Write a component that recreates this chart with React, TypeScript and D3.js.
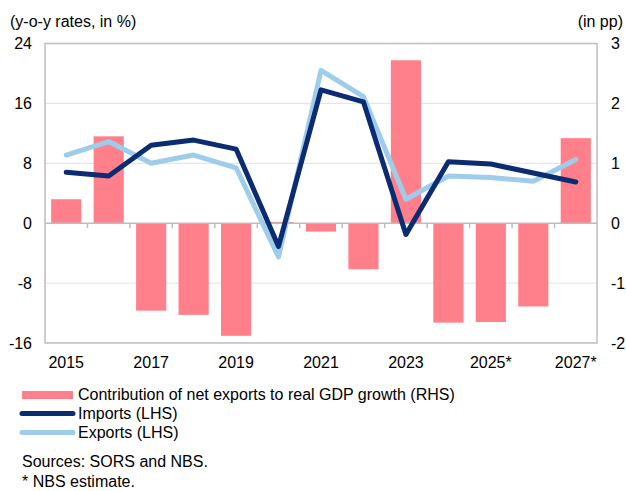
import React, { useEffect, useRef } from "react";
import * as d3 from "d3";

const years = ["2015", "2016", "2017", "2018", "2019", "2020", "2021", "2022", "2023", "2024", "2025*", "2026*", "2027*"];
const netExports = [0.4, 1.45, -1.46, -1.53, -1.88, 0.02, -0.14, -0.77, 2.72, -1.66, -1.65, -1.39, 1.42];
const imports = [6.8, 6.3, 10.4, 11.1, 9.9, -3.1, 17.8, 16.2, -1.5, 8.2, 7.9, 6.7, 5.5];
const exports = [9.1, 10.9, 8.0, 9.1, 7.4, -4.5, 20.4, 16.9, 3.2, 6.3, 6.1, 5.6, 8.5];
const leftTicks = [-16, -8, 0, 8, 16, 24];
const rightTicks = [-2, -1, 0, 1, 2, 3];
const xLabels = ["2015", "2017", "2019", "2021", "2023", "2025*", "2027*"];

const BAR = "#ff808b";
const NAVY = "#0b2c73";
const LIGHT = "#9dcdea";

export default function App() {
  const ref = useRef<SVGSVGElement | null>(null);

  useEffect(() => {
    if (!ref.current) return;
    const svg = d3.select(ref.current);
    svg.selectAll("*").remove();

    const W = 626;
    const H = 491;
    const m = { top: 43.5, left: 45, right: 29, bottom: 148 };
    const innerW = W - m.left - m.right;
    const innerH = H - m.top - m.bottom;
    const font = "'Liberation Sans', Arial, sans-serif";

    const x = d3.scaleBand().domain(years).range([m.left, m.left + innerW]).paddingInner(0.29).paddingOuter(0.145);
    const xc = (d: string) => x(d)! + x.bandwidth() / 2;
    const yL = d3.scaleLinear().domain([-16, 24]).range([m.top + innerH, m.top]);
    const yR = d3.scaleLinear().domain([-2, 3]).range([m.top + innerH, m.top]);

    // grid
    leftTicks.filter((t) => t !== 0 && t !== 24 && t !== -16).forEach((t) => {
      svg.append("line")
        .attr("x1", m.left).attr("x2", m.left + innerW)
        .attr("y1", yL(t)).attr("y2", yL(t))
        .attr("stroke", "#e2e2e2").attr("stroke-width", 1);
    });

    // bars
    svg.append("g").selectAll("rect").data(years).join("rect")
      .attr("x", (d) => x(d)!)
      .attr("width", x.bandwidth())
      .attr("y", (_, i) => Math.min(yR(netExports[i]), yR(0)))
      .attr("height", (_, i) => Math.abs(yR(netExports[i]) - yR(0)))
      .attr("fill", BAR);

    // zero axis with ticks at band edges
    svg.append("line")
      .attr("x1", m.left).attr("x2", m.left + innerW)
      .attr("y1", yL(0)).attr("y2", yL(0))
      .attr("stroke", "#bdbdbd").attr("stroke-width", 1.5);
    d3.range(1, years.length).forEach((i) => {
      const xx = m.left + i * (innerW / years.length);
      svg.append("line")
        .attr("x1", xx).attr("x2", xx)
        .attr("y1", yL(0)).attr("y2", yL(0) + 5)
        .attr("stroke", "#bdbdbd").attr("stroke-width", 1.5);
    });

    // frame
    svg.append("rect")
      .attr("x", m.left).attr("y", m.top)
      .attr("width", innerW).attr("height", innerH)
      .attr("fill", "none").attr("stroke", "#bdbdbd").attr("stroke-width", 1.5);

    // lines
    const line = (vals: number[]) =>
      d3.line<string>().x((d) => xc(d)).y((_, i) => yL(vals[i]))(years);
    svg.append("path").attr("d", line(exports)).attr("fill", "none")
      .attr("stroke", LIGHT).attr("stroke-width", 5).attr("stroke-linejoin", "round").attr("stroke-linecap", "round");
    svg.append("path").attr("d", line(imports)).attr("fill", "none")
      .attr("stroke", NAVY).attr("stroke-width", 5).attr("stroke-linejoin", "round").attr("stroke-linecap", "round");

    const txt = (xx: number, yy: number, s: string, anchor = "start") =>
      svg.append("text").attr("x", xx).attr("y", yy).attr("text-anchor", anchor)
        .attr("font-family", font).attr("font-size", 16).attr("fill", "#000").text(s);

    // axes labels
    leftTicks.forEach((t) => txt(32, yL(t) + 5.5, String(t), "end"));
    rightTicks.forEach((t) => txt(611, yR(t) + 5.5, String(t), "start"));
    xLabels.forEach((l) => txt(xc(l), 368, l, "middle"));

    txt(10, 27, "(y-o-y rates, in %)");
    txt(623, 27, "(in pp)", "end");

    // legend
    svg.append("rect").attr("x", 22).attr("y", 391).attr("width", 51).attr("height", 8).attr("fill", BAR);
    txt(78, 400, "Contribution of net exports to real GDP growth (RHS)");
    svg.append("line").attr("x1", 22).attr("x2", 73).attr("y1", 413.5).attr("y2", 413.5)
      .attr("stroke", NAVY).attr("stroke-width", 5).attr("stroke-linecap", "round");
    txt(78, 418.5, "Imports (LHS)");
    svg.append("line").attr("x1", 22).attr("x2", 73).attr("y1", 432.5).attr("y2", 432.5)
      .attr("stroke", LIGHT).attr("stroke-width", 5).attr("stroke-linecap", "round");
    txt(78, 437.5, "Exports (LHS)");

    txt(22, 466.5, "Sources: SORS and NBS.");
    txt(22, 486.5, "* NBS estimate.");
  }, []);

  return (
    <svg ref={ref} width={626} height={491} style={{ position: "absolute", left: 0, top: 0, background: "#fff" }} />
  );
}
